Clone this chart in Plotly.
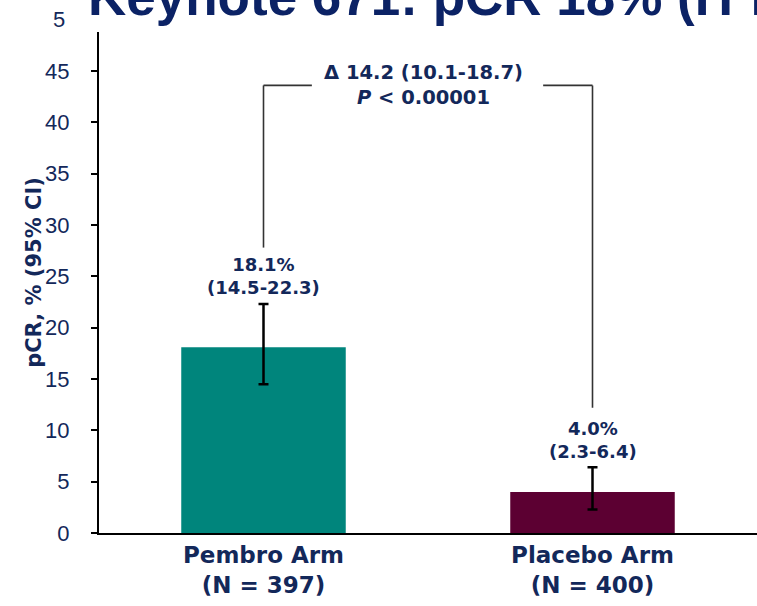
import plotly.graph_objects as go

# ---- data ----
categories = ["Pembro Arm", "Placebo Arm"]
n_patients = [397, 400]
pcr_values = [18.1, 4.0]
ci_low = [14.5, 2.3]
ci_high = [22.3, 6.4]
bar_colors = ["#00857C", "#5C0032"]
y_ticks = [0, 5, 10, 15, 20, 25, 30, 35, 40, 45]
delta_text = "Δ 14.2 (10.1-18.7)"
p_text = "<i>P</i> < 0.00001"
title_text = "Keynote 671: pCR 18% (ITT)"

NAVY = "#13285A"
BOLD_FONT = "DejaVu Sans"
NUM_FONT = "Liberation Sans, Arial"
Y_MAX = 48.8

tick_text = [f"<b>{c}<br>(N = {n})</b>" for c, n in zip(categories, n_patients)]

fig = go.Figure()
fig.add_trace(go.Bar(
    x=categories,
    y=pcr_values,
    width=0.5,
    marker=dict(color=bar_colors, line=dict(width=0)),
    error_y=dict(
        type="data",
        symmetric=False,
        array=[h - v for h, v in zip(ci_high, pcr_values)],
        arrayminus=[v - l for v, l in zip(pcr_values, ci_low)],
        color="black",
        thickness=2.5,
        width=5,
    ),
    hoverinfo="skip",
))

# value labels above error bars
for i, (c, v, lo, hi) in enumerate(zip(categories, pcr_values, ci_low, ci_high)):
    fig.add_annotation(
        x=i, y=hi + 2.7, xref="x", yref="y",
        text=f"<b>{v:.1f}%<br>({lo}-{hi})</b>",
        showarrow=False, yanchor="middle", xanchor="center",
        font=dict(family=BOLD_FONT, size=18, color=NAVY),
        align="center",
    )

# comparison bracket
y_top = 43.6
gap_l, gap_r = 0.147, 0.85
line_style = dict(color="#333333", width=1.6)
fig.add_shape(type="line", xref="x", yref="y", x0=0, x1=0, y0=ci_high[0] + 5.5, y1=y_top, line=line_style)
fig.add_shape(type="line", xref="x", yref="y", x0=0, x1=gap_l, y0=y_top, y1=y_top, line=line_style)
fig.add_shape(type="line", xref="x", yref="y", x0=gap_r, x1=1, y0=y_top, y1=y_top, line=line_style)
fig.add_shape(type="line", xref="x", yref="y", x0=1, x1=1, y0=ci_high[1] + 5.8, y1=y_top, line=line_style)
fig.add_annotation(
    x=0.485, y=y_top, xref="x", yref="y",
    text=f"<b>{delta_text}<br>{p_text}</b>",
    showarrow=False, yanchor="middle", xanchor="center",
    font=dict(family=BOLD_FONT, size=19.5, color=NAVY), align="center",
)

# y-axis title
fig.add_annotation(
    x=-0.099, y=0.521, xref="paper", yref="paper",
    text="<b>pCR, % (95% CI)</b>", textangle=-90,
    showarrow=False, xanchor="center", yanchor="middle",
    font=dict(family=BOLD_FONT, size=21, color=NAVY),
)

# clipped "50" label at the top (only the "5" visible)
fig.add_annotation(
    x=-0.073, y=1 + (50 - Y_MAX) / Y_MAX, xref="paper", yref="paper",
    text="5", showarrow=False, xanchor="left", yanchor="middle",
    font=dict(family=NUM_FONT, size=22, color=NAVY),
)

# clipped slide title
fig.add_annotation(
    x=-0.02, y=1.071, xref="paper", yref="paper",
    text=f"<b>{title_text}</b>", showarrow=False,
    xanchor="left", yanchor="middle",
    font=dict(family=NUM_FONT, size=53, color="#0B2265"),
)

fig.update_layout(
    width=757, height=606,
    margin=dict(l=99, r=0, t=32, b=73, autoexpand=False),
    paper_bgcolor="white", plot_bgcolor="white",
    showlegend=False,
    bargap=0.5,
)
fig.update_xaxes(
    range=[-0.5, 1.5],
    tickvals=[0, 1], ticktext=tick_text,
    tickfont=dict(family=BOLD_FONT, size=23, color=NAVY),
    showline=True, linecolor="black", linewidth=2,
    ticks="", showgrid=False, zeroline=False,
    automargin=False,
)
fig.update_yaxes(
    range=[0, Y_MAX],
    tickvals=y_ticks,
    tickfont=dict(family=NUM_FONT, size=22, color=NAVY),
    showline=True, linecolor="black", linewidth=2,
    ticks="outside", ticklen=6, tickwidth=2, tickcolor="black",
    ticklabelstandoff=17,
    showgrid=False, zeroline=False,
    automargin=False,
)

fig.write_html(
    "out.html",
    config={"displayModeBar": False},
    post_script="document.body.style.margin='0';document.body.style.overflow='hidden';",
)
